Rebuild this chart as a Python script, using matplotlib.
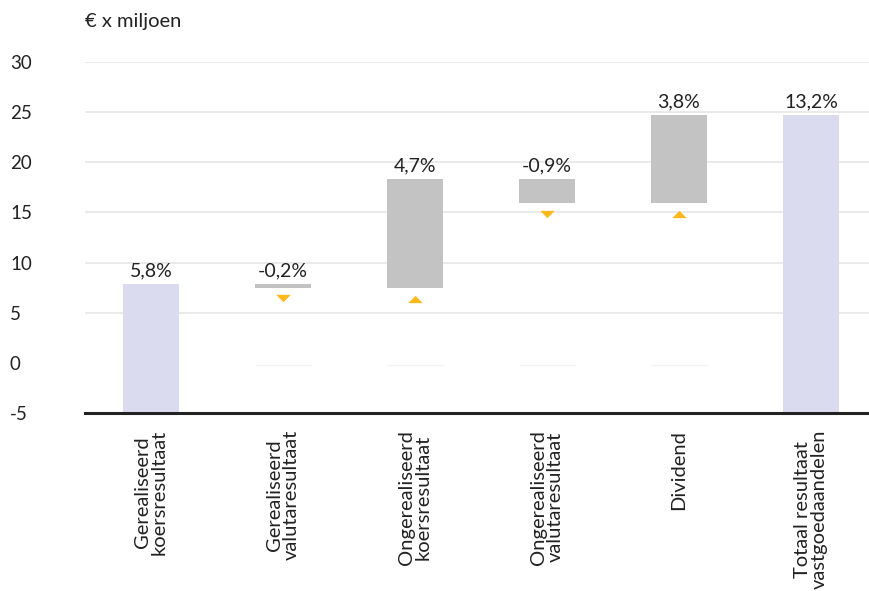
import matplotlib
matplotlib.use("Agg")
import matplotlib.pyplot as plt
from matplotlib.path import Path

plt.rcParams['font.family'] = ['Lato', 'DejaVu Sans']

categories = ["Gerealiseerd\nkoersresultaat", "Gerealiseerd\nvalutaresultaat",
              "Ongerealiseerd\nkoersresultaat", "Ongerealiseerd\nvalutaresultaat",
              "Dividend", "Totaal resultaat\nvastgoedaandelen"]
bar_bottom = [-5, 7.5, 7.5, 15.9, 15.9, -5]
bar_top = [7.9, 7.9, 18.3, 18.3, 24.7, 24.7]
pct_labels = ["5,8%", "-0,2%", "4,7%", "-0,9%", "3,8%", "13,2%"]
is_total = [True, False, False, False, False, True]
marker_dir = [None, "down", "up", "down", "up", None]
marker_y = [None, 6.5, 6.4, 14.8, 14.8, None]
yticks = [-5, 0, 5, 10, 15, 20, 25, 30]

fig = plt.figure(figsize=(8.7, 5.91), dpi=100)
ax = fig.add_axes([85/870, 1-413/591, 1-85/870, (413-62)/591])

total_c = "#DADBEE"
delta_c = "#C3C3C3"
orange = "#FFB81C"
txt_c = "#222222"

x = list(range(len(categories)))
w = 0.424
for i in x:
    ax.bar(i, bar_top[i]-bar_bottom[i], bottom=bar_bottom[i], width=w,
           color=total_c if is_total[i] else delta_c, zorder=3)
    ax.text(i, bar_top[i] + 0.45, pct_labels[i], ha="center", va="bottom",
            fontsize=14, color=txt_c, zorder=4)
    if not is_total[i]:
        ax.hlines(-0.25, i - w/2, i + w/2, color="#f2f2f2", lw=1, zorder=2)

down = Path([(-1, 0.5), (1, 0.5), (0, -0.5), (-1, 0.5)],
            [Path.MOVETO, Path.LINETO, Path.LINETO, Path.CLOSEPOLY])
up = Path([(-1, -0.5), (1, -0.5), (0, 0.5), (-1, -0.5)],
          [Path.MOVETO, Path.LINETO, Path.LINETO, Path.CLOSEPOLY])
for i in x:
    if marker_dir[i] is not None:
        ax.plot(i, marker_y[i], marker=down if marker_dir[i] == "down" else up,
                ms=10.5, color=orange, mec="none", zorder=4)

ax.set_xlim(-0.5, 5.447)
ax.set_ylim(-5, 30)
ax.set_yticks(yticks)
ax.set_yticklabels([str(v) for v in yticks])
for lab in ax.get_yticklabels():
    lab.set_ha("left")
ax.tick_params(axis="y", length=0, pad=54, labelsize=13.5, labelcolor=txt_c)
for v in yticks:
    if v not in (-5, 0):
        ax.axhline(v, color="#E6E6E6", lw=1.2, zorder=1)

ax.set_xticks(x)
ax.set_xticklabels(categories, rotation=90, ha="center", va="top",
                   multialignment="center", fontsize=14.5, color=txt_c,
                   linespacing=1.0)
ax.tick_params(axis="x", length=0, pad=12)

for s in ["left", "right", "top"]:
    ax.spines[s].set_visible(False)
ax.spines["bottom"].set_color(txt_c)
ax.spines["bottom"].set_linewidth(2.2)
ax.spines["bottom"].set_zorder(5)

fig.text(85/870, 1-22/591, "€ x miljoen", ha="left", va="center",
         fontsize=14.5, color=txt_c)

fig.savefig("out.png", dpi=100)
